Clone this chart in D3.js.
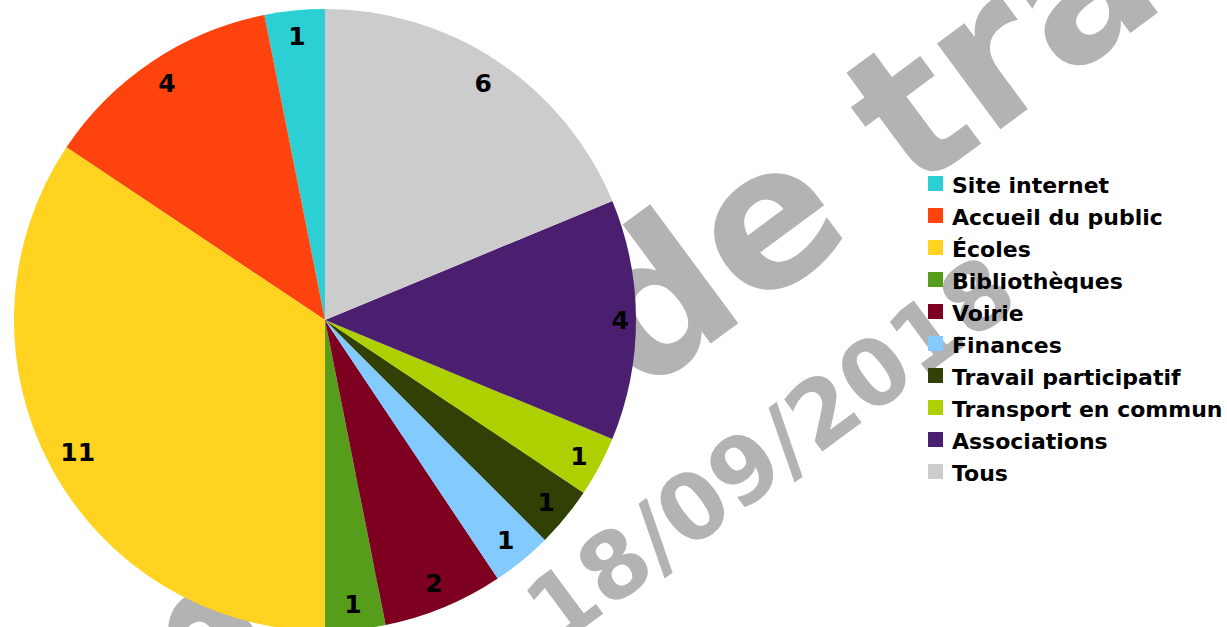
<!DOCTYPE html>
<html>
<head>
<meta charset="utf-8">
<script src="https://cdn.jsdelivr.net/npm/d3@7"></script>
<style>
    body { margin: 0; background: #ffffff; }
    svg { display: block; }
</style>
</head>
<body>
<div id="pie"></div>
<script>

// données
const categories = ["Site internet", "Accueil du public", "Écoles", "Bibliothèques", "Voirie",
    "Finances", "Travail participatif", "Transport en commun", "Associations", "Tous"];
const values = [1, 4, 11, 1, 2, 1, 1, 1, 4, 6];
const colors = ["#2ccfd3", "#ff430e", "#ffd320", "#579d1c", "#7e0021",
    "#83caff", "#314004", "#aecf00", "#4b1f6f", "#cccccc"];

// filigrane
const watermarkLines = ["Document", "de travail", "18/09/2018"];

const width = 1227;
const height = 627;
const cx = 325, cy = 320;
const radius = 311;
const labelSize = 25;

const svg = d3.select("#pie")
    .append("svg")
    .attr("width", width)
    .attr("height", height);

// watermark (behind the pie)
const wm = svg.append("g")
    .attr("transform", "rotate(-36.5)")
    .attr("fill", "#b3b3b3")
    .style("font-family", "'DejaVu Sans', sans-serif")
    .style("font-weight", "bold");

wm.append("text")
    .attr("x", 278 - 0.348 * 195)
    .attr("y", 699)
    .attr("text-anchor", "end")
    .style("font-size", "195px")
    .text(watermarkLines[0]);
wm.append("text")
    .attr("x", 278)
    .attr("y", 699)
    .style("font-size", "195px")
    .text(watermarkLines[1]);
wm.append("text")
    .attr("x", 62)
    .attr("y", 852)
    .style("font-size", "92px")
    .text(watermarkLines[2]);

// pie, counter-clockwise from 12 o'clock
const data = categories.map((c, i) => ({name: c, value: values[i], color: colors[i]}));

const pie = d3.pie()
    .sort(null)
    .value(d => d.value)
    .startAngle(0)
    .endAngle(-2 * Math.PI);

const arc = d3.arc()
    .innerRadius(0)
    .outerRadius(radius);

const arcs = pie(data);

const pieG = svg.append("g")
    .attr("transform", "translate(" + cx + "," + cy + ")");

pieG.selectAll("path")
    .data(arcs)
    .enter()
    .append("path")
    .attr("d", arc)
    .attr("fill", d => d.data.color);

// value labels, kept inside the rim
const labels = pieG.append("g")
    .style("font-family", "'DejaVu Sans', sans-serif")
    .style("font-weight", "bold")
    .style("font-size", labelSize + "px")
    .attr("fill", "#000000");

labels.selectAll("text")
    .data(arcs)
    .enter()
    .append("text")
    .attr("text-anchor", "middle")
    .text(d => d.data.value)
    .each(function(d) {
        const a = (d.startAngle + d.endAngle) / 2;
        const s = Math.sin(a), c = -Math.cos(a);
        const w = this.getComputedTextLength();
        const r = radius - 7 - (Math.abs(s) * w / 2 + Math.abs(c) * 17.5);
        d3.select(this)
            .attr("x", r * s)
            .attr("y", r * c + 0.36 * labelSize);
    });

// legend
const legend = svg.append("g")
    .attr("transform", "translate(928,0)");

const rows = legend.selectAll("g")
    .data(data)
    .enter()
    .append("g")
    .attr("transform", (d, i) => "translate(0," + (183.5 + 32 * i) + ")");

rows.append("rect")
    .attr("x", 0)
    .attr("y", -7.5)
    .attr("width", 15)
    .attr("height", 15)
    .attr("fill", d => d.color);

rows.append("text")
    .attr("x", 24)
    .attr("y", 9.5)
    .style("font-family", "'DejaVu Sans', sans-serif")
    .style("font-weight", "bold")
    .style("font-size", "22px")
    .attr("fill", "#000000")
    .text(d => d.name);

</script>
</body>
</html>
